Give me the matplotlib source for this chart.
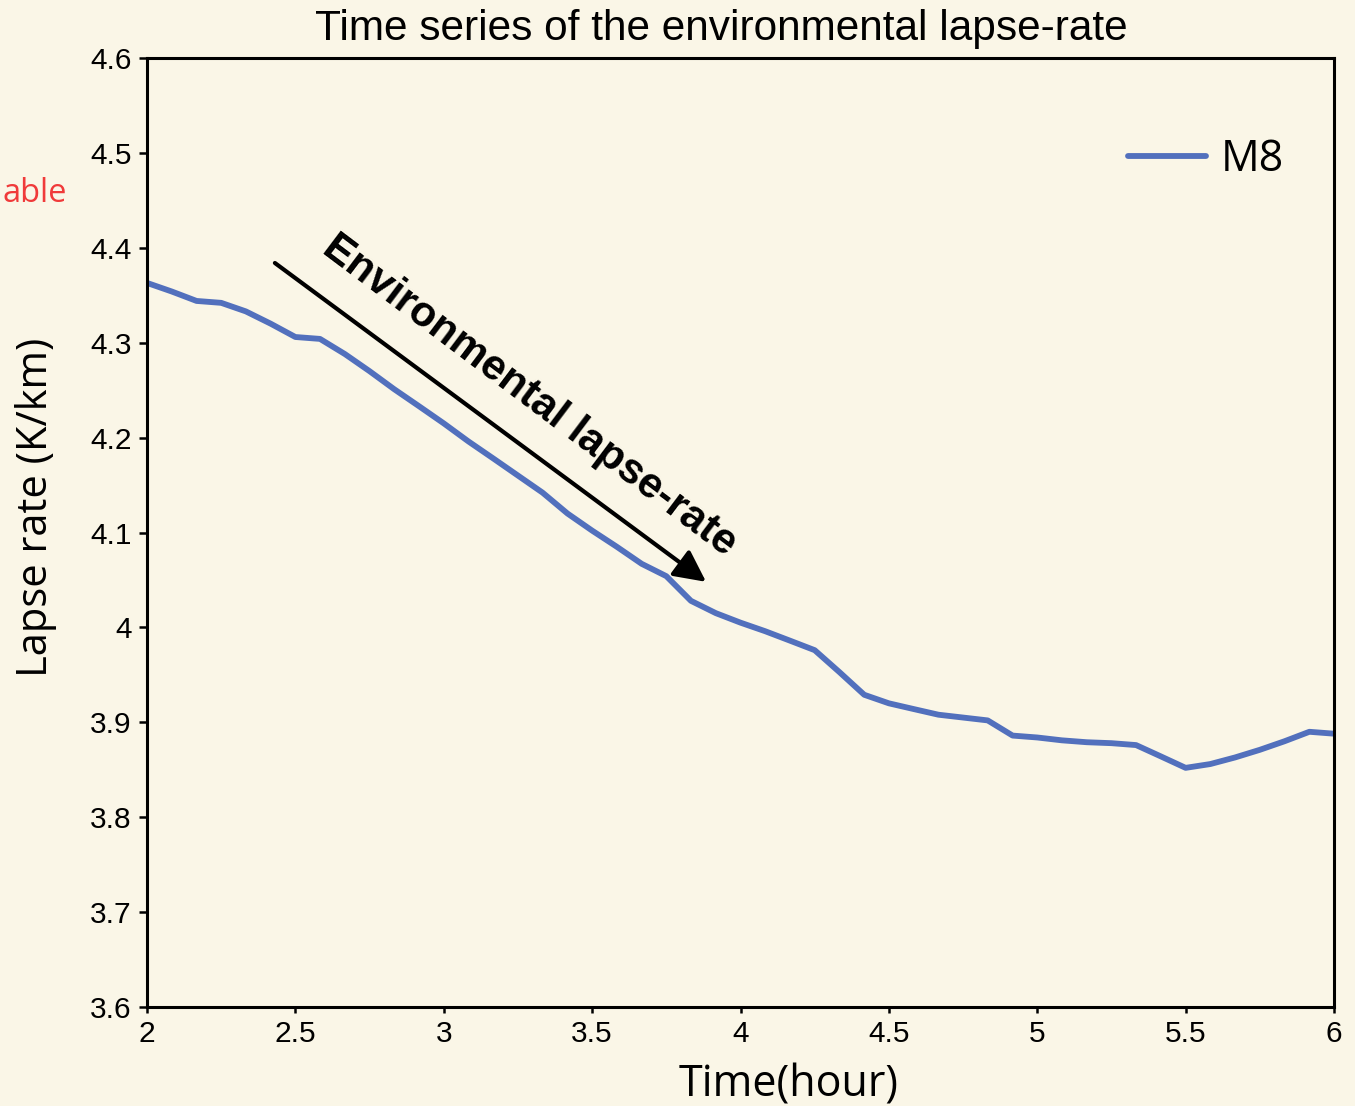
import matplotlib
matplotlib.use("Agg")
import matplotlib.pyplot as plt

# ---------------- data ----------------
time_hours = [2.000, 2.083, 2.167, 2.250, 2.333, 2.417, 2.500, 2.583, 2.667, 2.750,
              2.833, 2.917, 3.000, 3.083, 3.167, 3.250, 3.333, 3.417, 3.500, 3.583,
              3.667, 3.750, 3.833, 3.917, 4.000, 4.083, 4.167, 4.250, 4.333, 4.417,
              4.500, 4.583, 4.667, 4.750, 4.833, 4.917, 5.000, 5.083, 5.167, 5.250,
              5.333, 5.417, 5.500, 5.583, 5.667, 5.750, 5.833, 5.917, 6.000]
lapse_m8 = [4.363, 4.354, 4.344, 4.342, 4.333, 4.320, 4.306, 4.304, 4.288, 4.270,
            4.251, 4.233, 4.215, 4.196, 4.178, 4.160, 4.142, 4.120, 4.102, 4.085,
            4.067, 4.054, 4.028, 4.015, 4.005, 3.996, 3.986, 3.976, 3.953, 3.929,
            3.920, 3.914, 3.908, 3.905, 3.902, 3.886, 3.884, 3.881, 3.879, 3.878,
            3.876, 3.864, 3.852, 3.856, 3.863, 3.871, 3.880, 3.890, 3.888]
series_label = "M8"
x_ticks = [2, 2.5, 3, 3.5, 4, 4.5, 5, 5.5, 6]
x_tick_labels = ["2", "2.5", "3", "3.5", "4", "4.5", "5", "5.5", "6"]
y_ticks = [3.6, 3.7, 3.8, 3.9, 4.0, 4.1, 4.2, 4.3, 4.4, 4.5, 4.6]
y_tick_labels = ["3.6", "3.7", "3.8", "3.9", "4", "4.1", "4.2", "4.3", "4.4", "4.5", "4.6"]
title = "Time series of the environmental lapse-rate"
x_label = "Time(hour)"
y_label = "Lapse rate (K/km)"
annotation_text = "Environmental lapse-rate"
side_text = "able"

# ---------------- style ----------------
W, H = 1355, 1106
bg = "#FAF6E7"
line_color = "#5270BD"
sans = ["Liberation Sans", "DejaVu Sans"]
open_sans = ["Open Sans", "DejaVu Sans"]

fig = plt.figure(figsize=(W / 100, H / 100), dpi=100, facecolor=bg)
ax = fig.add_axes([147 / W, (H - 1007) / H, (1334 - 147) / W, (1007 - 58) / H])
ax.set_facecolor(bg)

ax.plot(time_hours, lapse_m8, color=line_color, lw=4.2, solid_capstyle="round",
        solid_joinstyle="round", label=series_label)

ax.set_xlim(2, 6)
ax.set_ylim(3.6, 4.6)
ax.set_xticks(x_ticks)
ax.set_xticklabels(x_tick_labels)
ax.set_yticks(y_ticks)
ax.set_yticklabels(y_tick_labels)

for sp in ax.spines.values():
    sp.set_linewidth(2.2)
    sp.set_color("black")

ax.tick_params(axis="y", direction="out", length=6, width=1.8, pad=5, labelsize=21.5)
ax.tick_params(axis="x", direction="out", length=4, width=1.8, pad=5, labelsize=21.5)
for lab in ax.get_xticklabels() + ax.get_yticklabels():
    lab.set_fontfamily(sans)

# axis labels
ax.set_xlabel(x_label, fontsize=31, family=open_sans, va="baseline")
ax.xaxis.set_label_coords((789 - 147) / 1187, (1007 - 1097) / 949)
ax.set_ylabel(y_label, fontsize=30, family=open_sans, va="baseline")
ax.yaxis.set_label_coords((47 - 147) / 1187, (1007 - 507) / 949)

# title
fig.text(721.5 / W, 1 - 40 / H, title, ha="center", va="baseline",
         fontsize=30.5, family=sans)

# legend
leg = ax.legend(loc="center left", bbox_to_anchor=((1128 - 147) / 1187, (1007 - 160) / 949),
                frameon=False, borderpad=0, borderaxespad=0, handlelength=1.8,
                handletextpad=0.35, prop={"family": open_sans, "size": 31})

# arrow annotation
ax.annotate("", xy=(3.884, 4.048), xytext=(2.431, 4.384),
            arrowprops=dict(arrowstyle="-|>", lw=3, color="black",
                            mutation_scale=48, shrinkA=0, shrinkB=0))
ax.text(3.290, 4.2440, annotation_text, rotation=-37, rotation_mode="anchor",
        ha="center", va="center", fontsize=30.5, fontweight="bold", family=sans)

# partially shown side text in red
fig.text(2 / W, 1 - 202 / H, side_text, ha="left", va="baseline", color="#F03A3A",
         fontsize=23.5, family=open_sans)

fig.savefig("out.png", dpi=100, facecolor=bg)
